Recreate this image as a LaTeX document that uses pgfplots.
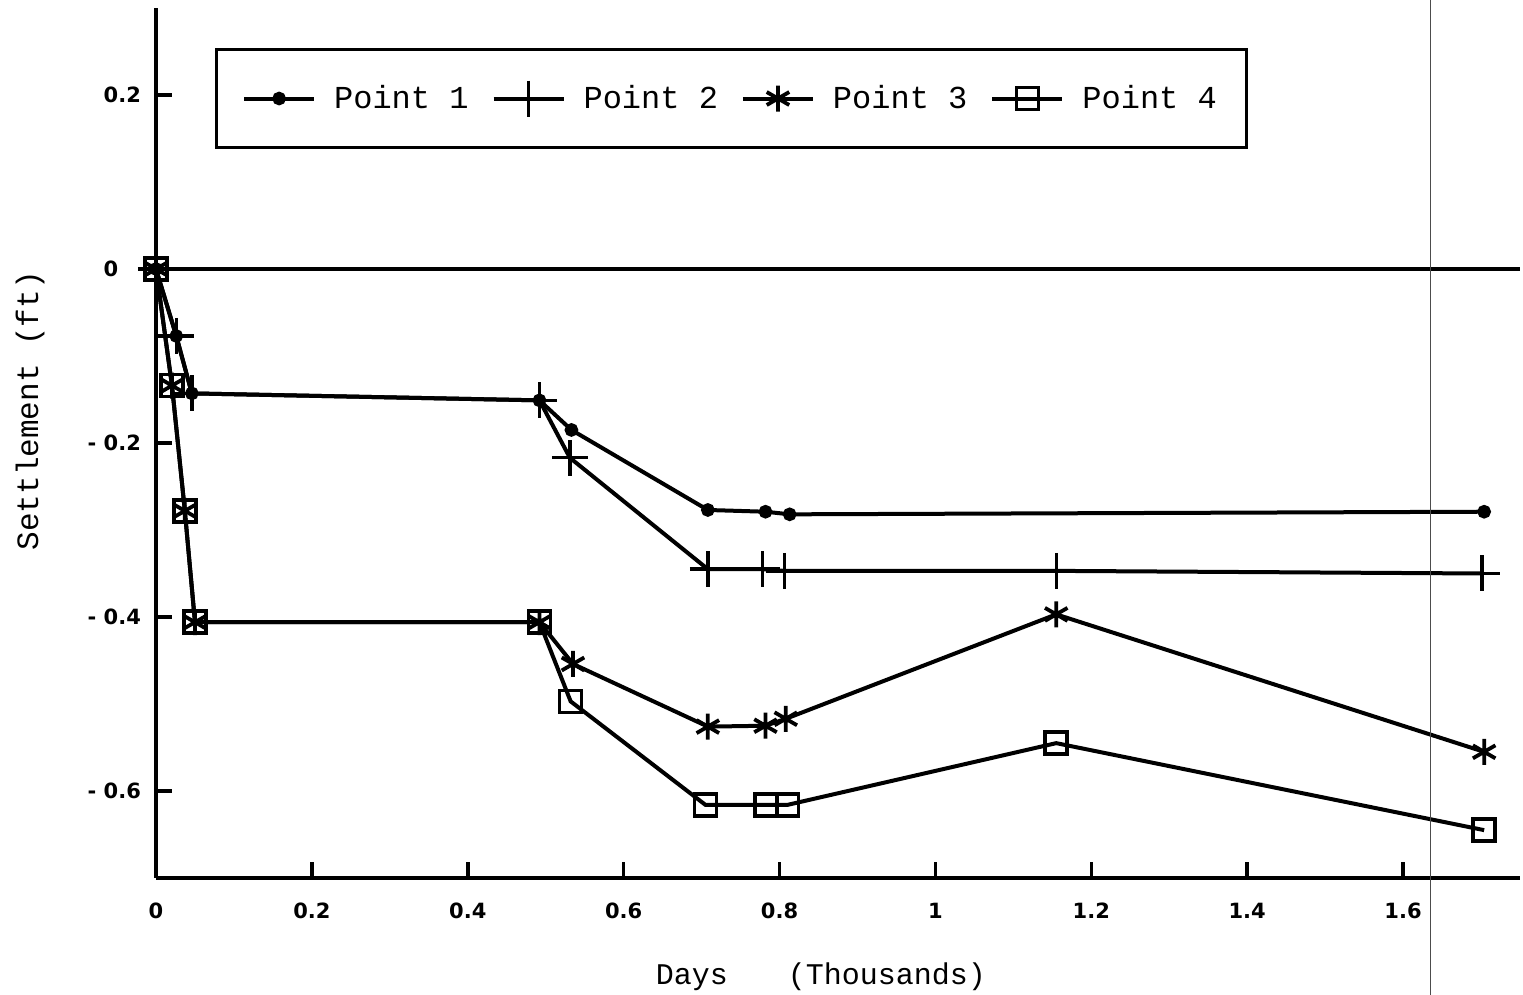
\documentclass[border=0pt]{standalone}
\usepackage{pgfplots}
\pgfplotsset{compat=1.18}
\usepackage{fontspec}
\setmainfont{Liberation Mono}
\newfontfamily\tickfont{DejaVu Sans}
\begin{document}
\begin{tikzpicture}
\begin{axis}[
  at={(0,0)}, anchor=south west,
  scale only axis,
  width=682pt, height=435pt,
  xmin=0, xmax=1.75, ymin=-0.7, ymax=0.3,
  axis lines=left,
  axis line style={-, line width=2pt},
  xtick={0,0.2,0.4,0.6,0.8,1,1.2,1.4,1.6},
  xticklabels={0,0.2,0.4,0.6,0.8,1,1.2,1.4,1.6},
  ytick={-0.6,-0.4,-0.2,0,0.2},
  yticklabels={- 0.6,- 0.4,- 0.2,0\phantom{.2},0.2},
  tick align=inside,
  major tick length=8pt,
  tick style={line width=1.8pt, black},
  ticklabel style={font=\tickfont\bfseries\fontsize{10.5}{12}\selectfont},
  yticklabel style={xshift=-4pt},
  xticklabel style={yshift=-9pt},
  xlabel={Days\hspace{30pt}(Thousands)},
  xlabel style={at={(rel axis cs:0.4875,0)}, anchor=center, yshift=-49.5pt, font=\fontsize{15}{17}\selectfont},
  ylabel={Settlement (ft)},
  ylabel style={at={(rel axis cs:0,0.537)}, anchor=center, yshift=63pt, font=\fontsize{15.5}{17}\selectfont},
  legend columns=4,
  legend style={at={(rel axis cs:0.043,0.954)}, anchor=north west, draw=black, line width=1.5pt,
    inner ysep=15.5pt, inner xsep=13pt,
    font=\fontsize{16}{18}\selectfont,
    /tikz/every even column/.append style={column sep=9.5pt}},
  legend image code/.code={\draw[mark repeat=2,mark phase=2,#1] plot coordinates {(0pt,0pt) (17.5pt,0pt) (35pt,0pt)};},
  every axis plot/.append style={black, line width=2pt},
]
\addplot[line width=1.8pt, forget plot] coordinates {(0,0) (1.75,0)};
\addplot[mark=*, mark size=2.4pt] coordinates {
(0,0) (0.026,-0.077) (0.046,-0.143) (0.492,-0.151) (0.533,-0.185) (0.708,-0.277) (0.782,-0.279) (0.813,-0.282) (1.704,-0.279)};
\addlegendentry{\hspace{7pt}Point 1}
\addplot[mark=+, mark size=9pt, mark options={line width=1.7pt}] coordinates {
(0,0) (0.026,-0.077) (0.046,-0.143) (0.492,-0.151) (0.531,-0.217) (0.708,-0.345) (0.778,-0.345) (0.806,-0.347) (1.155,-0.347) (1.701,-0.350)};
\addlegendentry{\hspace{7pt}Point 2}
\addplot[mark=asterisk, mark size=6.5pt, mark options={line width=1.9pt}] coordinates {
(0,0) (0.0205,-0.134) (0.037,-0.278) (0.05,-0.406) (0.492,-0.406) (0.535,-0.454) (0.708,-0.526) (0.782,-0.525) (0.808,-0.517) (1.155,-0.397) (1.704,-0.555)};
\addlegendentry{\hspace{7pt}Point 3}
\addplot[mark=square, mark size=5.5pt, mark options={line width=1.8pt}] coordinates {
(0,0) (0.0205,-0.134) (0.037,-0.278) (0.05,-0.406) (0.492,-0.406) (0.532,-0.497) (0.705,-0.616) (0.783,-0.616) (0.810,-0.616) (1.155,-0.545) (1.704,-0.645)};
\addlegendentry{\hspace{7pt}Point 4}
\end{axis}
\draw[black!70, line width=0.4pt] (637pt,-58.5pt) -- (637pt,439pt);
\pgfresetboundingbox
\path[use as bounding box] (-78pt,-58.5pt) rectangle (683.5pt,439pt);
\end{tikzpicture}
\end{document}
